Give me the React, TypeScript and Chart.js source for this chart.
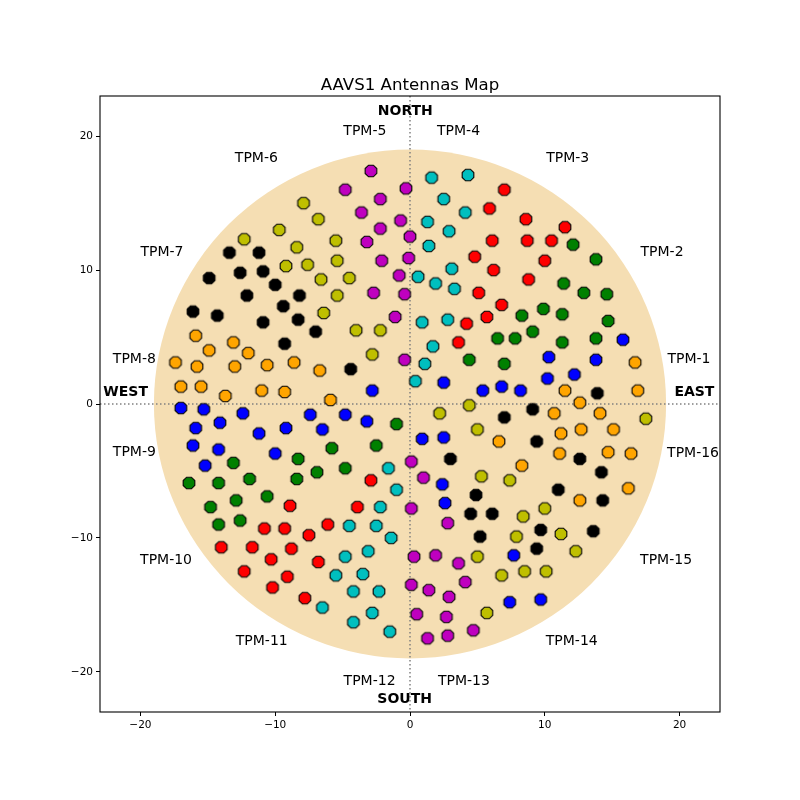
import React, { useEffect, useRef } from "react";
import { Chart, registerables } from "chart.js";

Chart.register(...registerables);

// ---- Data ----
const TPM_NAMES = [
  "TPM-1", "TPM-2", "TPM-3", "TPM-4", "TPM-5", "TPM-6", "TPM-7", "TPM-8",
  "TPM-9", "TPM-10", "TPM-11", "TPM-12", "TPM-13", "TPM-14", "TPM-15", "TPM-16",
];

const TPM_COLORS = [
  "#0000ff", "#008000", "#ff0000", "#00bfbf", "#bf00bf", "#bfbf00", "#000000", "#ffa500",
  "#0000ff", "#008000", "#ff0000", "#00bfbf", "#bf00bf", "#bfbf00", "#000000", "#ffa500",
];

const TPM1 = [[2.5,1.6],[5.4,1.0],[6.8,1.3],[8.2,1.0],[10.3,3.5],[10.2,1.9],[12.2,2.2],[13.8,3.3],[15.8,4.8],[0.9,-2.6],[2.5,-2.5],[2.4,-6.0],[2.6,-7.4],[7.7,-11.3],[7.4,-14.8],[9.7,-14.6]];
const TPM2 = [[12.1,11.9],[13.8,10.8],[11.4,9.0],[12.9,8.3],[14.6,8.2],[9.9,7.1],[8.3,6.6],[11.3,6.7],[14.7,6.2],[6.5,4.9],[7.8,4.9],[9.1,5.4],[11.3,4.6],[13.8,4.9],[7.0,3.0],[4.4,3.3]];
const TPM3 = [[7.0,16.0],[5.9,14.6],[8.6,13.8],[11.5,13.2],[6.1,12.2],[8.7,12.2],[10.5,12.2],[10.0,10.7],[4.8,11.0],[6.2,10.0],[8.8,9.3],[5.1,8.3],[6.8,7.4],[5.7,6.5],[4.2,6.0],[3.6,4.6]];
const TPM4 = [[1.6,16.9],[4.3,17.1],[2.5,15.3],[4.1,14.3],[1.3,13.6],[2.9,12.9],[1.4,11.8],[3.1,10.1],[0.6,9.5],[1.9,9.0],[3.3,8.6],[0.9,6.1],[2.8,6.3],[1.7,4.3],[1.1,3.0],[0.4,1.7]];
const TPM5 = [[-2.9,17.4],[-4.8,16.0],[-0.3,16.1],[-2.2,15.3],[-3.6,14.3],[-0.7,13.7],[-2.2,13.1],[0.0,12.5],[-3.2,12.1],[-0.1,10.9],[-2.1,10.7],[-0.8,9.6],[-2.7,8.3],[-0.4,8.2],[-1.1,6.5],[-0.4,3.3]];
const TPM6 = [[-7.9,15.0],[-6.8,13.8],[-9.7,13.0],[-12.3,12.3],[-8.4,11.7],[-9.2,10.3],[-7.6,10.4],[-6.6,9.3],[-6.4,6.8],[-5.5,12.2],[-5.4,10.7],[-4.5,9.4],[-5.4,8.1],[-4.0,5.5],[-2.2,5.5],[-2.8,3.7]];
const TPM7 = [[-13.4,11.3],[-11.2,11.3],[-14.9,9.4],[-12.6,9.8],[-10.9,9.9],[-10.0,8.9],[-12.1,8.1],[-8.2,8.1],[-9.4,7.3],[-16.1,6.9],[-14.3,6.6],[-10.9,6.1],[-8.3,6.3],[-7.0,5.4],[-9.3,4.5],[-4.4,2.6]];
const TPM8 = [[-15.9,5.1],[-13.1,4.6],[-14.9,4.0],[-12.0,3.8],[-17.4,3.1],[-15.8,2.8],[-13.0,2.8],[-10.6,2.9],[-8.6,3.1],[-6.7,2.5],[-17.0,1.3],[-15.5,1.3],[-13.7,0.6],[-11.0,1.0],[-9.3,0.9],[-5.9,0.3]];
const TPM9 = [[-17.0,-0.3],[-15.3,-0.4],[-12.4,-0.7],[-7.4,-0.8],[-15.9,-1.8],[-14.1,-1.4],[-11.2,-2.2],[-9.2,-1.8],[-6.5,-1.9],[-16.1,-3.1],[-14.2,-3.4],[-10.0,-3.7],[-15.2,-4.6],[-4.8,-0.8],[-3.2,-1.3],[-2.8,1.0]];
const TPM10 = [[-13.1,-4.4],[-8.3,-4.1],[-5.8,-3.3],[-16.4,-5.9],[-14.2,-5.9],[-11.9,-5.6],[-8.4,-5.6],[-6.9,-5.1],[-14.8,-7.7],[-12.9,-7.2],[-10.6,-6.9],[-14.2,-9.0],[-12.6,-8.7],[-1.0,-1.5],[-2.5,-3.1],[-4.8,-4.8]];
const TPM11 = [[-8.9,-7.6],[-10.8,-9.3],[-9.3,-9.3],[-7.5,-9.8],[-6.1,-9.0],[-14.0,-10.7],[-11.7,-10.7],[-8.8,-10.8],[-10.3,-11.6],[-6.8,-11.8],[-12.3,-12.5],[-9.1,-12.9],[-10.2,-13.7],[-7.8,-14.5],[-2.9,-5.7],[-3.9,-7.7]];
const TPM12 = [[-1.6,-4.8],[-1.0,-6.4],[-2.2,-7.7],[-4.5,-9.1],[-2.5,-9.1],[-1.4,-10.0],[-3.1,-11.0],[-4.8,-11.4],[-5.5,-12.8],[-3.5,-12.7],[-4.2,-14.0],[-2.3,-14.0],[-6.5,-15.2],[-2.8,-15.6],[-4.2,-16.3],[-1.5,-17.0]];
const TPM13 = [[0.1,-4.3],[1.0,-5.5],[0.1,-7.8],[2.8,-8.9],[0.3,-11.4],[1.9,-11.3],[3.6,-11.9],[4.1,-13.3],[0.1,-13.5],[1.4,-13.9],[2.9,-14.4],[0.5,-15.7],[2.7,-15.9],[4.7,-16.9],[1.3,-17.5],[2.8,-17.3]];
const TPM14 = [[2.2,-0.7],[4.4,-0.1],[5.0,-1.9],[5.3,-5.4],[17.5,-1.1],[7.4,-5.7],[10.0,-7.8],[8.4,-8.4],[7.9,-9.9],[11.2,-9.7],[12.3,-11.0],[6.8,-12.8],[8.5,-12.5],[10.1,-12.5],[5.7,-15.6],[5.0,-11.4]];
const TPM15 = [[3.0,-4.1],[4.9,-6.8],[4.5,-8.2],[6.1,-8.2],[5.2,-9.9],[11.0,-6.4],[14.3,-7.2],[9.7,-9.4],[13.6,-9.5],[9.4,-10.8],[13.9,0.8],[9.1,-0.4],[7.0,-1.0],[9.4,-2.8],[12.6,-4.1],[14.2,-5.1]];
const TPM16 = [[16.7,3.1],[11.5,1.0],[16.9,1.0],[12.6,0.1],[10.7,-0.7],[14.1,-0.7],[11.2,-2.2],[12.7,-1.9],[15.1,-1.9],[6.6,-2.8],[11.1,-3.7],[14.7,-3.6],[16.4,-3.7],[8.3,-4.6],[16.2,-6.3],[12.6,-7.2]];

const TPM_POSITIONS = [TPM1, TPM2, TPM3, TPM4, TPM5, TPM6, TPM7, TPM8, TPM9, TPM10, TPM11, TPM12, TPM13, TPM14, TPM15, TPM16];

// Label anchor points (data coordinates), one per TPM name
const TPM_LABEL_X = [20.7, 18.7, 11.7, 3.6, -3.35, -11.4, -18.4, -20.45, -20.45, -18.1, -11.0, -3.0, 4.0, 12.0, 19.0, 21.0];
const TPM_LABEL_Y = [3.35, 11.35, 18.35, 20.35, 20.35, 18.35, 11.35, 3.35, -3.6, -11.7, -17.7, -20.7, -20.7, -17.7, -11.7, -3.65];

const DIRECTION_NAMES = ["NORTH", "SOUTH", "WEST", "EAST"];
const DIRECTION_X = [-0.35, -0.4, -21.1, 21.1];
const DIRECTION_Y = [21.85, -22.05, 0.9, 0.9];

const STATION_RADIUS = 19;
const AXIS_MIN = -23;
const AXIS_MAX = 23;
const TICK_VALUES = [-20, -10, 0, 10, 20];
const TITLE = "AAVS1 Antennas Map";

const FONT = "'DejaVu Sans', 'Liberation Sans', sans-serif";

function makeOctagon(fill: string): HTMLCanvasElement {
  const size = 16;
  const r = 6.3;
  const c = document.createElement("canvas");
  c.width = size;
  c.height = size;
  const ctx = c.getContext("2d")!;
  ctx.beginPath();
  for (let k = 0; k < 8; k++) {
    const a = Math.PI / 8 + (k * Math.PI) / 4;
    const px = size / 2 + r * Math.cos(a);
    const py = size / 2 + r * Math.sin(a);
    if (k === 0) ctx.moveTo(px, py);
    else ctx.lineTo(px, py);
  }
  ctx.closePath();
  ctx.fillStyle = fill;
  ctx.fill();
  ctx.lineWidth = 1.1;
  ctx.strokeStyle = "#000000";
  ctx.stroke();
  return c;
}

const decorPlugin = {
  id: "aavsDecor",
  beforeDatasetsDraw(chart: any) {
    const { ctx, chartArea, scales } = chart;
    const xs = scales.x;
    const ys = scales.y;
    ctx.save();
    ctx.beginPath();
    ctx.rect(chartArea.left, chartArea.top, chartArea.right - chartArea.left, chartArea.bottom - chartArea.top);
    ctx.clip();
    // station disc
    const cx = xs.getPixelForValue(0);
    const cy = ys.getPixelForValue(0);
    const rx = Math.abs(xs.getPixelForValue(STATION_RADIUS) - cx);
    const ry = Math.abs(ys.getPixelForValue(STATION_RADIUS) - cy);
    ctx.beginPath();
    ctx.ellipse(cx, cy, rx, ry, 0, 0, Math.PI * 2);
    ctx.fillStyle = "#f5deb3";
    ctx.fill();
    // dotted axes lines
    ctx.strokeStyle = "#808080";
    ctx.lineWidth = 1.5;
    ctx.setLineDash([1.5, 2.5]);
    ctx.beginPath();
    ctx.moveTo(chartArea.left, cy);
    ctx.lineTo(chartArea.right, cy);
    ctx.moveTo(cx, chartArea.top);
    ctx.lineTo(cx, chartArea.bottom);
    ctx.stroke();
    ctx.restore();
  },
  afterDraw(chart: any) {
    const { ctx, chartArea, scales } = chart;
    const xs = scales.x;
    const ys = scales.y;
    ctx.save();
    // frame
    ctx.strokeStyle = "#000000";
    ctx.lineWidth = 1.1;
    ctx.setLineDash([]);
    ctx.strokeRect(chartArea.left, chartArea.top, chartArea.right - chartArea.left, chartArea.bottom - chartArea.top);
    // title
    ctx.fillStyle = "#000000";
    ctx.textAlign = "center";
    ctx.textBaseline = "alphabetic";
    ctx.font = `16.6px ${FONT}`;
    ctx.fillText(TITLE, (chartArea.left + chartArea.right) / 2, chartArea.top - 6.5);
    // TPM labels
    ctx.textBaseline = "middle";
    ctx.font = `14px ${FONT}`;
    TPM_NAMES.forEach((name, i) => {
      ctx.fillText(name, xs.getPixelForValue(TPM_LABEL_X[i]), ys.getPixelForValue(TPM_LABEL_Y[i]));
    });
    // direction labels
    ctx.font = `bold 14px ${FONT}`;
    DIRECTION_NAMES.forEach((name, i) => {
      ctx.fillText(name, xs.getPixelForValue(DIRECTION_X[i]), ys.getPixelForValue(DIRECTION_Y[i]));
    });
    ctx.restore();
  },
};

function tickLabel(v: number): string {
  return v < 0 ? "\u2212" + Math.abs(v) : String(v);
}

export default function App() {
  const canvasRef = useRef<HTMLCanvasElement | null>(null);

  useEffect(() => {
    if (!canvasRef.current) return;
    const datasets = TPM_POSITIONS.map((pts, i) => ({
      label: TPM_NAMES[i],
      data: pts.map(([x, y]) => ({ x, y })),
      pointStyle: makeOctagon(TPM_COLORS[i]),
      pointRadius: 6.5,
      pointHoverRadius: 6.5,
      backgroundColor: TPM_COLORS[i],
      borderColor: "#000000",
    }));

    const makeScale = (position: string, isX: boolean) => ({
      type: "linear" as const,
      position,
      min: AXIS_MIN,
      max: AXIS_MAX,
      afterBuildTicks: (scale: any) => {
        scale.ticks = TICK_VALUES.map((v) => ({ value: v }));
      },
      afterFit: (scale: any) => {
        if (isX) scale.height = 88;
        else scale.width = 100;
      },
      grid: {
        display: true,
        drawOnChartArea: false,
        drawTicks: true,
        tickLength: 4,
        color: "#000000",
        lineWidth: 1,
      },
      border: { display: false },
      ticks: {
        color: "#000000",
        font: { family: FONT, size: 10.5 },
        padding: 3,
        maxRotation: 0,
        autoSkip: false,
        callback: (v: any) => tickLabel(Number(v)),
      },
    });

    const chart = new Chart(canvasRef.current, {
      type: "scatter",
      data: { datasets },
      options: {
        animation: false,
        responsive: true,
        maintainAspectRatio: false,
        events: [],
        layout: { padding: { left: 0, right: 80, top: 96, bottom: 0 } },
        plugins: {
          legend: { display: false },
          tooltip: { enabled: false },
          title: { display: false },
        },
        scales: {
          x: makeScale("bottom", true),
          y: makeScale("left", false),
        },
      } as any,
      plugins: [decorPlugin],
    });
    return () => chart.destroy();
  }, []);

  return (
    <div style={{ position: "fixed", left: 0, top: 0, width: 800, height: 800, background: "#ffffff" }}>
      <canvas ref={canvasRef} />
    </div>
  );
}
